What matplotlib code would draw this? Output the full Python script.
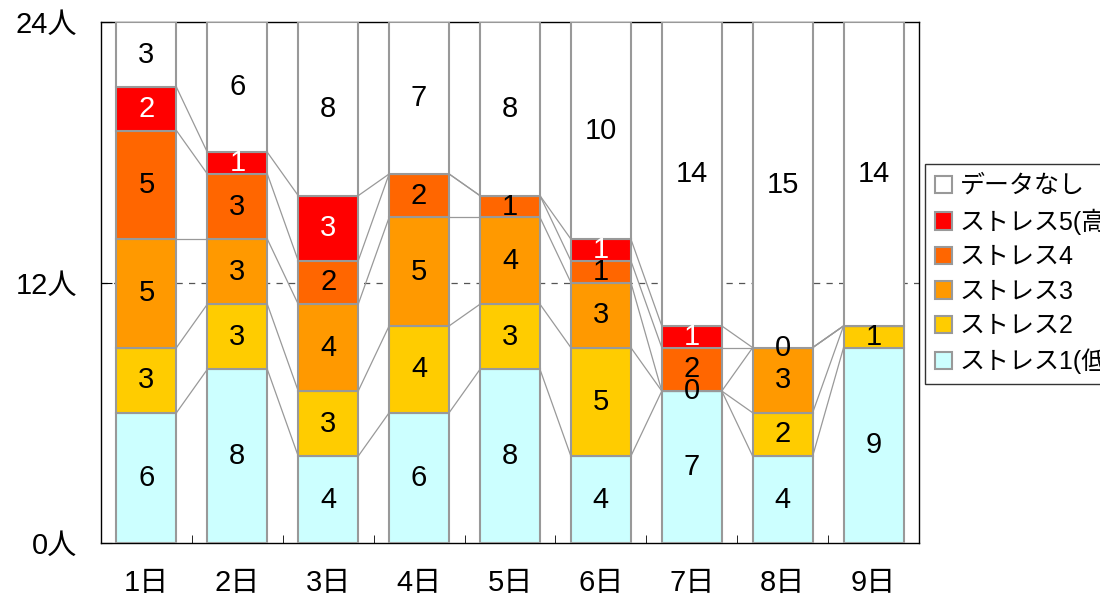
import numpy as np
import matplotlib.pyplot as plt
from matplotlib.patches import Patch

plt.rcParams['font.family'] = ['Liberation Sans', 'Noto Sans CJK JP']

days = ['1日', '2日', '3日', '4日', '5日', '6日', '7日', '8日', '9日']
# nan = 値なし（ラベルを出さない）
s1 = [6, 8, 4, 6, 8, 4, 7, 4, 9]
s2 = [3, 3, 3, 4, 3, 5, 0, 2, 1]
s3 = [5, 3, 4, 5, 4, 3, np.nan, 3, np.nan]
s4 = [5, 3, 2, 2, 1, 1, 2, 0, np.nan]
s5 = [2, 1, 3, np.nan, np.nan, 1, 1, np.nan, np.nan]
nodata = [3, 6, 8, 7, 8, 10, 14, 15, 14]

names = ['ストレス1(低)', 'ストレス2', 'ストレス3', 'ストレス4', 'ストレス5(高)', 'データなし']
colors = ['#CCFFFF', '#FFCC00', '#FF9900', '#FF6600', '#FF0000', '#FFFFFF']
series = [s1, s2, s3, s4, s5, nodata]

fig = plt.figure(figsize=(11, 6.03), dpi=100)
ax = fig.add_axes([101 / 1100, 60 / 603, 818 / 1100, 521 / 603])

x = np.arange(len(days))
w = 0.66
bottom = np.zeros(len(days))
tops = []
for vals, col, name in zip(series, colors, names):
    v = np.nan_to_num(np.array(vals, dtype=float))
    ax.bar(x, v, w, bottom=bottom, color=col, edgecolor='#999999',
           linewidth=1.5, zorder=3)
    for i, val in enumerate(vals):
        if np.isnan(val):
            continue
        tc = 'white' if col == '#FF0000' else 'black'
        ax.text(x[i], bottom[i] + v[i] / 2, f'{int(val)}', ha='center',
                va='center', fontsize=21, color=tc, zorder=5)
    bottom = bottom + v
    tops.append(bottom.copy())

# 区分線（各系列の上端を隣の棒とつなぐ）
for t in tops[:-1]:
    for i in range(len(days) - 1):
        ax.plot([x[i] + w / 2, x[i + 1] - w / 2], [t[i], t[i + 1]],
                color='#999999', linewidth=0.9, zorder=2)

ax.axhline(12, color='#555555', linestyle=(0, (5, 5)), linewidth=0.9, zorder=1)

ax.set_xlim(-0.5, len(days) - 0.5)
ax.set_ylim(0, 24)
ax.set_yticks([0, 12, 24])
ax.set_yticklabels(['0人', '12人', '24人'], fontsize=21)
ax.set_xticks(x)
ax.set_xticklabels(days, fontsize=21)
ax.set_xticks(np.arange(0.5, len(days) - 1, 1), minor=True)
ax.tick_params(axis='x', which='major', length=0, pad=19)
ax.tick_params(axis='x', which='minor', direction='in', length=6)
ax.tick_params(axis='y', direction='in', length=8, pad=17)
for sp in ax.spines.values():
    sp.set_color('black')
    sp.set_linewidth(1)

handles = [Patch(facecolor=c, edgecolor='#999999', linewidth=1.5, label=n)
           for c, n in zip(colors[::-1], names[::-1])]
leg = fig.legend(handles=handles, loc='upper left',
                 bbox_to_anchor=(925 / 1100, 1 - 164 / 603), fontsize=18,
                 frameon=True, fancybox=False, edgecolor='black',
                 handlelength=0.68, handleheight=0.68, handletextpad=0.3,
                 labelspacing=0.42, borderpad=0.4, borderaxespad=0)
leg.get_frame().set_linewidth(1)

fig.savefig('out.png', dpi=100)
